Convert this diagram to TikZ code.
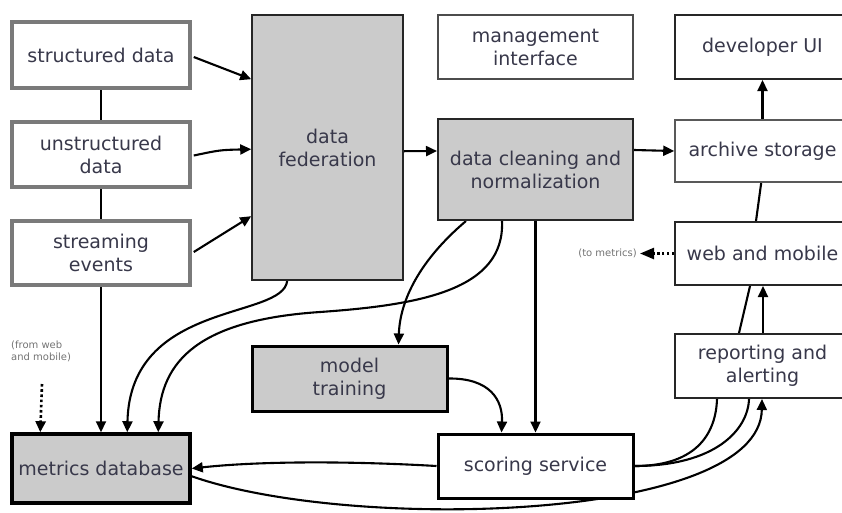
\documentclass[tikz,border=0pt]{standalone}
\usepackage{fontspec}
\setmainfont{DejaVu Sans}
\usetikzlibrary{arrows.meta,calc}
\pgfdeclarelayer{bg}
\pgfsetlayers{bg,main}
\definecolor{txt}{HTML}{38384A}
\definecolor{boxgray}{HTML}{CBCBCB}
\definecolor{inframe}{HTML}{7A7A7A}
\begin{document}
\begin{tikzpicture}[x=1pt,y=-1pt,
  box/.style={draw=black!85, line width=1.6pt, fill=white, text=txt, align=center,
    font=\fontsize{19}{23}\selectfont, inner sep=0pt},
  inbox/.style={box, draw=inframe, line width=3.5pt},
  graybox/.style={box, fill=boxgray},
  heavy/.style={line width=3pt, draw=black},
  link/.style={line width=2.1pt, draw=black},
  arr/.style={link, -{Triangle[length=11pt,width=10pt]}},
  note/.style={text=black!55, font=\fontsize{10}{12}\selectfont, inner sep=0pt, align=left}
]
\useasboundingbox (0,0) rectangle (842,512);
\clip (0,0) rectangle (842,512);

% sources
\node[inbox, minimum width=178pt, minimum height=66pt] (sd) at (101,55) {structured data};
\node[inbox, minimum width=178pt, minimum height=65pt] (ud) at (101,154.5) {unstructured\\data};
\node[inbox, minimum width=178pt, minimum height=64pt] (se) at (101,253) {streaming\\events};

% processing
\node[graybox, minimum width=151pt, minimum height=265pt] (fed) at (327.5,147.5) {data\\federation};
\node[box, draw=black!70, minimum width=195pt, minimum height=64pt] (mgmt) at (535.5,47) {management\\interface};
\node[graybox, line width=2pt, minimum width=195pt, minimum height=101pt] (clean) at (535.5,169.5) {data cleaning and\\normalization};
\node[graybox, heavy, minimum width=195pt, minimum height=65pt] (mt) at (349.5,378.5) {model\\training};
\node[graybox, heavy, line width=3.5pt, minimum width=178pt, minimum height=69pt] (mdb) at (101,468.5) {metrics database};
\node[box, heavy, minimum width=195pt, minimum height=64pt] (sc) at (535.5,466) {scoring service};

% outputs
\node[box, line width=2pt, minimum width=175pt, minimum height=64pt] (dev) at (762.5,47) {developer UI};
\node[box, draw=black!65, minimum width=175pt, minimum height=62pt] (arch) at (762.5,151) {archive storage};
\node[box, line width=2pt, minimum width=175pt, minimum height=63pt] (web) at (762.5,253.5) {web and mobile};
\node[box, line width=2pt, minimum width=175pt, minimum height=64pt] (rep) at (762.5,366) {reporting and\\alerting};

% side notes
\node[note, anchor=north west] (fromweb) at (11,341) {(from web\\and mobile)};
\coordinate (fw) at (42,384);
\node[note, anchor=east] (tometrics) at (637,253.5) {(to metrics)};

\begin{pgfonlayer}{bg}
  % sources into federation
  \draw[arr] ($(sd.east)+(2,2)$) -- ($(fed.north west)+(0,65)$);
  \draw[arr] ($(ud.east)+(2,1)$) .. controls (220,150) .. ($(fed.north west)+(0,135)$);
  \draw[arr] ($(se.east)+(2,-1)$) -- ($(fed.north west)+(0,202)$);
  \draw[link] (sd.south) -- (ud.north);
  \draw[link] (ud.south) -- (se.north);
  \draw[arr] (se.south) -- (mdb.north);
  \draw[arr, line width=2.6pt, dash pattern=on 2.6pt off 2.6pt] (fw) -- ($(mdb.north west)+(30,0)$);

  % main pipeline
  \draw[arr] ($(fed.north east)+(0,137)$) -- ($(clean.north west)+(0,33)$);
  \draw[arr] ($(clean.north east)+(0,32)$) -- (arch.west);
  \draw[arr] (arch.north) -- (dev.south);

  % federation and cleaning into metrics database
  \draw[arr] ($(fed.south west)+(36,0)$) .. controls (283,320) and (130,300) .. ($(mdb.north west)+(117,0)$);
  \draw[arr] ($(clean.south west)+(65,0)$) .. controls (505,290) and (420,305) .. (320,312)
     .. controls (200,320) and (160,360) .. ($(mdb.north west)+(148,0)$);

  % training and scoring
  \draw[arr] ($(clean.south west)+(29,0)$) .. controls (420,260) and (400,300) .. ($(mt.north west)+(148,0)$);
  \draw[arr] (clean.south) -- (sc.north);
  \draw[arr] (mt.east) .. controls (490,378) and (503,400) .. ($(sc.north west)+(65,0)$);
  \draw[arr] (sc.west) .. controls (350,461) and (260,461) .. (mdb.east);

  % scoring towards reporting, web and archive
  \draw[link] (sc.east) .. controls (700,466) and (716,430) .. ($(rep.south west)+(43,0)$)
     -- ($(rep.north west)+(65,0)$) -- ($(web.south west)+(76,0)$)
     -- ($(web.north west)+(82,0)$) -- ($(arch.south west)+(87,0)$);
  \draw[link] (sc.east) .. controls (715,466) and (748,430) .. ($(rep.south west)+(75,0)$);
  \draw[arr] ($(mdb.north east)+(0,44)$) .. controls (350,532) and (760,522) .. ($(rep.south west)+(88,0)$);
  \draw[arr] ($(rep.north west)+(89,0)$) -- ($(web.south west)+(89,0)$);

  % web and mobile back to metrics
  \draw[link, line width=2.4pt, dash pattern=on 2.4pt off 2.4pt, -{Triangle[length=14pt,width=11pt]}] (web.west) -- ($(tometrics.east)+(3,0)$);
\end{pgfonlayer}
\end{tikzpicture}
\end{document}
